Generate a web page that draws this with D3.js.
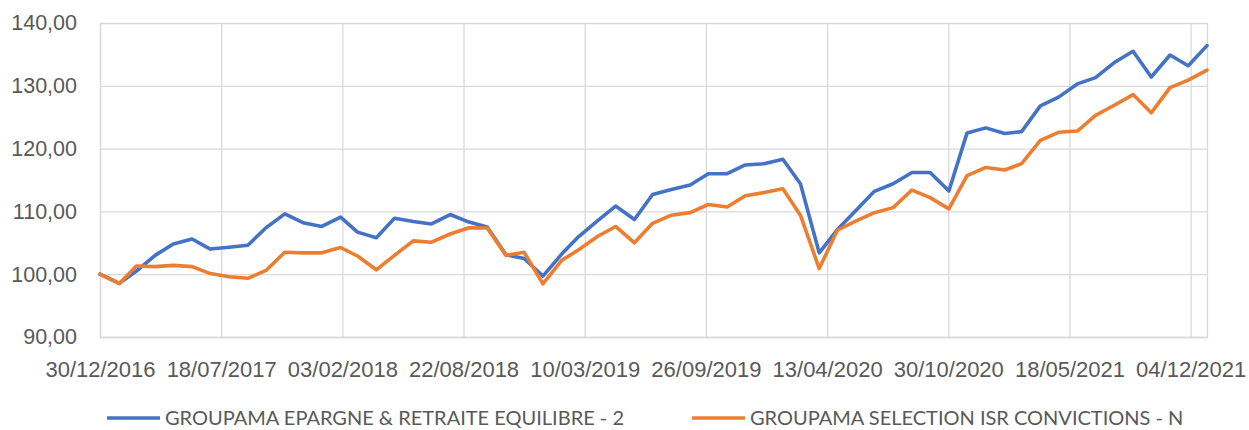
<!DOCTYPE html>
<html lang="fr">
  <head>
    <meta charset="UTF-8" />
    <title>Groupama - performance</title>
    <script src="https://d3js.org/d3.v7.min.js"></script>
    <style>
      body { margin: 0; background: #fff; }
      svg { display: block; font-family: Lato, "Open Sans", sans-serif; }
      .tick text { fill: #595959; }
    </style>
  </head>
  <body>
    <svg id="chart" width="1249" height="430"></svg>
    <script>
      // fin de mois
      const dates = [
        "30/12/2016",
        "31/01/2017","28/02/2017","31/03/2017","30/04/2017","31/05/2017","30/06/2017",
        "31/07/2017","31/08/2017","30/09/2017","31/10/2017","30/11/2017","31/12/2017",
        "31/01/2018","28/02/2018","31/03/2018","30/04/2018","31/05/2018","30/06/2018",
        "31/07/2018","31/08/2018","30/09/2018","31/10/2018","30/11/2018","31/12/2018",
        "31/01/2019","28/02/2019","31/03/2019","30/04/2019","31/05/2019","30/06/2019",
        "31/07/2019","31/08/2019","30/09/2019","31/10/2019","30/11/2019","31/12/2019",
        "31/01/2020","29/02/2020","31/03/2020","30/04/2020","31/05/2020","30/06/2020",
        "31/07/2020","31/08/2020","30/09/2020","31/10/2020","30/11/2020","31/12/2020",
        "31/01/2021","28/02/2021","31/03/2021","30/04/2021","31/05/2021","30/06/2021",
        "31/07/2021","31/08/2021","30/09/2021","31/10/2021","30/11/2021","31/12/2021"
      ];

      const equilibre = [
        100.0, 98.55, 100.5, 103.0, 104.8, 105.6, 104.0, 104.3, 104.6, 107.4,
        109.6, 108.2, 107.6, 109.1, 106.7, 105.8, 108.9, 108.4, 108.0, 109.5,
        108.3, 107.5, 103.1, 102.5, 99.7, 103.2, 106.0, 108.5, 110.85, 108.7,
        112.7, 113.5, 114.2, 116.0, 116.0, 117.4, 117.6, 118.3, 114.4, 103.4,
        107.1, 110.2, 113.2, 114.4, 116.2, 116.2, 113.25, 122.5, 123.3, 122.4,
        122.7, 126.8, 128.2, 130.3, 131.3, 133.7, 135.5, 131.4, 134.9, 133.2,
        136.4
      ];

      const convictions = [
        100.0, 98.5, 101.3, 101.2, 101.4, 101.2, 100.1, 99.6, 99.35, 100.6,
        103.5, 103.4, 103.4, 104.25, 102.9, 100.7, 103.0, 105.3, 105.1, 106.4,
        107.4, 107.35, 103.0, 103.5, 98.45, 102.2, 103.9, 106.0, 107.6, 105.0,
        108.1, 109.4, 109.8, 111.1, 110.7, 112.5, 113.0, 113.6, 109.4, 100.9,
        107.0, 108.5, 109.8, 110.6, 113.4, 112.2, 110.4, 115.7, 117.0, 116.6,
        117.6, 121.3, 122.6, 122.8, 125.3, 126.9, 128.6, 125.7, 129.7, 130.9,
        132.5
      ];

      const xTickLabels = [
        "30/12/2016","18/07/2017","03/02/2018","22/08/2018","10/03/2019",
        "26/09/2019","13/04/2020","30/10/2020","18/05/2021","04/12/2021"
      ];
      const yTicks = [90, 100, 110, 120, 130, 140];

      const seriesNames = [
        "GROUPAMA EPARGNE & RETRAITE EQUILIBRE - 2",
        "GROUPAMA SELECTION ISR CONVICTIONS - N"
      ];
      const seriesColors = ["#4472C4", "#ED7D31"];

      const parse = d3.timeParse("%d/%m/%Y");
      const fmtTick = d3.timeFormat("%d/%m/%Y");
      const dateObjs = dates.map(parse);

      const margin = { left: 100, right: 42, top: 23, bottom: 93 };
      const width = 1249, height = 430;
      const svg = d3.select("#chart");

      const x = d3.scaleTime()
        .domain([dateObjs[0], dateObjs[dateObjs.length - 1]])
        .range([margin.left, width - margin.right]);
      const y = d3.scaleLinear()
        .domain([90, 140])
        .range([height - margin.bottom, margin.top]);

      const tickDates = xTickLabels.map(parse);

      // grille horizontale
      svg.append("g")
        .attr("transform", `translate(${margin.left},0)`)
        .call(d3.axisLeft(y).tickValues(yTicks)
          .tickSize(-(width - margin.left - margin.right))
          .tickPadding(23)
          .tickFormat(d => d3.format(".2f")(d).replace(".", ",")))
        .call(g => g.select(".domain").remove())
        .call(g => g.selectAll(".tick line").attr("stroke", "#D9D9D9").attr("stroke-width", 1.3))
        .call(g => g.selectAll(".tick text").attr("font-size", 21.5));

      // grille verticale + labels
      svg.append("g")
        .attr("transform", `translate(0,${height - margin.bottom})`)
        .call(d3.axisBottom(x).tickValues(tickDates)
          .tickSize(-(height - margin.top - margin.bottom))
          .tickPadding(24)
          .tickFormat(fmtTick))
        .call(g => g.select(".domain").attr("stroke", "#D9D9D9").attr("stroke-width", 1.3))
        .call(g => g.selectAll(".tick line").attr("stroke", "#D9D9D9").attr("stroke-width", 1.3))
        .call(g => g.selectAll(".tick text").attr("font-size", 22));

      const line = d3.line()
        .x((d, i) => x(dateObjs[i]))
        .y(d => y(d));

      [equilibre, convictions].forEach((vals, k) => {
        svg.append("path")
          .datum(vals)
          .attr("d", line)
          .attr("fill", "none")
          .attr("stroke", seriesColors[k])
          .attr("stroke-width", 3.6)
          .attr("stroke-linejoin", "round")
          .attr("stroke-linecap", "round");
      });

      // légende
      const legendX = [107, 692];
      const legend = svg.append("g");
      seriesNames.forEach((name, k) => {
        const g = legend.append("g").attr("transform", `translate(${legendX[k]},418)`);
        g.append("line")
          .attr("x1", 0).attr("x2", 53)
          .attr("stroke", seriesColors[k])
          .attr("stroke-width", 3.6);
        g.append("text")
          .attr("x", 58)
          .attr("dy", "0.35em")
          .attr("font-size", 20)
          .attr("fill", "#595959")
          .text(name);
      });
    </script>
  </body>
</html>
